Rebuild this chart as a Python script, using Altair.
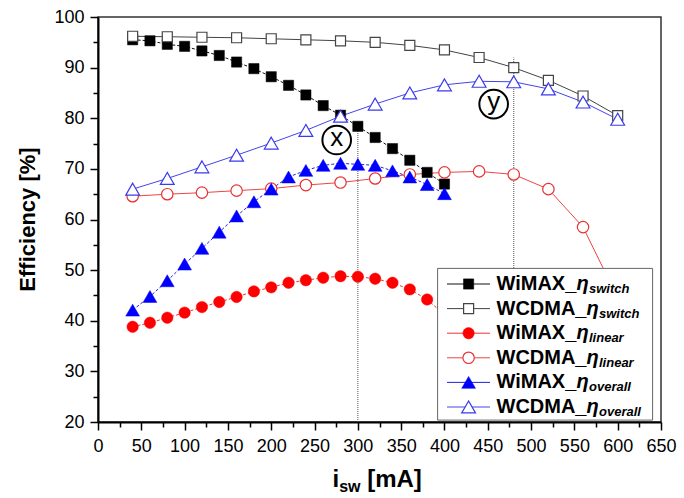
import altair as alt
import pandas as pd

# ---------------- data ----------------
x_wimax = [40, 60, 80, 100, 120, 140, 160, 180, 200, 220, 240, 260, 280, 300, 320, 340, 360, 380, 400]
x_wcdma = [40, 80, 120, 160, 200, 240, 280, 320, 360, 400, 440, 480, 520, 560, 600]

wimax_switch = [95.5, 95.3, 94.6, 94.2, 93.3, 92.4, 91.1, 89.8, 88.2, 86.5, 84.6, 82.5, 80.6, 78.4, 76.2, 74.0, 71.7, 69.3, 67.0]
wcdma_switch = [96.2, 96.1, 96.0, 95.9, 95.7, 95.5, 95.3, 95.0, 94.4, 93.5, 92.0, 90.0, 87.5, 84.4, 80.5]
wimax_linear = [38.8, 39.6, 40.6, 41.6, 42.7, 43.7, 44.7, 45.8, 46.6, 47.5, 48.0, 48.5, 48.8, 48.7, 48.3, 47.5, 46.2, 44.2, 41.2]
wcdma_linear = [64.6, 65.0, 65.3, 65.7, 66.1, 66.8, 67.3, 68.1, 68.9, 69.3, 69.5, 68.9, 66.0, 58.5, 44.5]
wimax_overall = [42.1, 44.8, 47.9, 51.2, 54.3, 57.5, 60.7, 63.5, 66.0, 68.4, 69.7, 70.7, 71.1, 70.9, 70.7, 69.6, 68.4, 66.9, 65.1]
wcdma_overall = [66.0, 68.1, 70.4, 72.7, 75.1, 77.6, 80.4, 82.8, 85.0, 86.6, 87.3, 87.2, 85.8, 83.2, 79.8]

# reference lines (x, top value) and circled markers
ref_x = [300, 480]
ref_top = [78.4, 92.0]
mark_label = ["x", "y"]
mark_x = [275.6, 456.8]
mark_y = [75.7, 82.8]

x_ticks = list(range(0, 651, 25))
y_ticks = list(range(20, 101, 5))

FONT = "Liberation Sans"

# ---------------- scales / axes ----------------
xscale = alt.Scale(domain=[0, 650], nice=False, zero=False)
yscale = alt.Scale(domain=[20, 100], nice=False, zero=False)

x_axis = alt.Axis(
    values=x_ticks,
    labelExpr="datum.value % 50 === 0 ? datum.label : ''",
    tickSize={"condition": {"test": "datum.value % 50 === 0", "value": 8}, "value": 5},
    tickColor="black", tickWidth=1.5,
    domainColor="black", domainWidth=2,
    labelFont=FONT, labelFontSize=18, labelColor="black", labelPadding=7,
    labelFlush=False, labelOverlap=False,
    grid=False, title=None,
)
y_axis = alt.Axis(
    values=y_ticks,
    labelExpr="datum.value % 10 === 0 ? datum.label : ''",
    tickSize={"condition": {"test": "datum.value % 10 === 0", "value": 8}, "value": 5},
    tickColor="black", tickWidth=1.5,
    domainColor="black", domainWidth=2,
    labelFont=FONT, labelFontSize=18, labelColor="black", labelPadding=6,
    labelFlush=False, labelOverlap=False,
    grid=False,
    title="Efficiency [%]", titleFont=FONT, titleFontSize=22, titleFontWeight="bold",
    titleColor="black", titleAngle=-90, titleAlign="center", titleBaseline="middle",
    titleX=-71, titleY=202,
)

X = lambda: alt.X("x:Q", scale=xscale, axis=x_axis)
Y = lambda: alt.Y("y:Q", scale=yscale, axis=y_axis)

series = [
    dict(pre="WiMAX_", sub="switch", x=x_wimax, y=wimax_switch, line="#111111", mcol="#000000",
         shape="square", filled=True, dash=[3, 2], size=105),
    dict(pre="WCDMA_", sub="switch", x=x_wcdma, y=wcdma_switch, line="#444444", mcol="#444444",
         shape="square", filled=False, dash=None, size=100),
    dict(pre="WiMAX_", sub="linear", x=x_wimax, y=wimax_linear, line="#ee3333", mcol="#ff0000",
         shape="circle", filled=True, dash=[3, 2], size=130),
    dict(pre="WCDMA_", sub="linear", x=x_wcdma, y=wcdma_linear, line="#ee4444", mcol="#e83030",
         shape="circle", filled=False, dash=None, size=130),
    dict(pre="WiMAX_", sub="overall", x=x_wimax, y=wimax_overall, line="#2222dd", mcol="#0000ff",
         shape="triangle-up", filled=True, dash=[3, 2], size=190),
    dict(pre="WCDMA_", sub="overall", x=x_wcdma, y=wcdma_overall, line="#4444ee", mcol="#3a3aee",
         shape="triangle-up", filled=False, dash=None, size=190),
]

layers = []

# reference dotted rules
ref_df = pd.DataFrame({"x": ref_x, "y": [20] * len(ref_x), "y2": ref_top})
layers.append(
    alt.Chart(ref_df).mark_rule(color="#555555", strokeWidth=1, strokeDash=[1, 1]).encode(
        x=X(), y=Y(), y2="y2:Q"
    )
)


def line_layer(s):
    df = pd.DataFrame({"x": s["x"], "y": s["y"]})
    kw = dict(color=s["line"], strokeWidth=1)
    if s["dash"]:
        kw["strokeDash"] = s["dash"]
    return alt.Chart(df).mark_line(**kw).encode(x=X(), y=Y())


def point_kw(s):
    if s["filled"]:
        return dict(shape=s["shape"], size=s["size"], filled=True, fill=s["mcol"],
                    stroke=s["mcol"], strokeWidth=0.5, opacity=1, fillOpacity=1)
    return dict(shape=s["shape"], size=s["size"], filled=True, fill="white",
                stroke=s["mcol"], strokeWidth=1.2, opacity=1, fillOpacity=1)


for s in series:
    layers.append(line_layer(s))
for s in series:
    df = pd.DataFrame({"x": s["x"], "y": s["y"]})
    layers.append(alt.Chart(df).mark_point(**point_kw(s)).encode(x=X(), y=Y()))

# circled annotations
ann_df = pd.DataFrame({"x": mark_x, "y": mark_y, "t": mark_label})
layers.append(
    alt.Chart(ann_df).mark_point(shape="circle", size=820, filled=False, color="black",
                                 strokeWidth=2, opacity=1).encode(x=X(), y=Y())
)
layers.append(
    alt.Chart(ann_df).mark_text(font=FONT, fontSize=26, color="black", baseline="middle",
                                align="center", dy=-2).encode(x=X(), y=Y(), text="t:N")
)

# ---------------- legend (custom box) ----------------
one = pd.DataFrame({"k": [0]})
LX0, LX1, LY0, LY1 = 339.6, 554.6, 251.4, 403.1
layers.append(
    alt.Chart(one).mark_rect(fill="white", stroke="#666666", strokeWidth=1).encode(
        x=alt.value(LX0), x2=alt.value(LX1), y=alt.value(LY0), y2=alt.value(LY1)
    )
)
pre_w = {"WiMAX_": 80.0, "WCDMA_": 90.0}
for i, s in enumerate(series):
    yi = 267.0 + 24.6 * i
    layers.append(
        alt.Chart(one).mark_rule(color=s["line"], strokeWidth=1).encode(
            x=alt.value(349), x2=alt.value(392), y=alt.value(yi)
        )
    )
    layers.append(
        alt.Chart(one).mark_point(**point_kw(s)).encode(x=alt.value(370.6), y=alt.value(yi))
    )
    tx = 398.5
    layers.append(
        alt.Chart(one).mark_text(text=s["pre"], font=FONT, fontSize=20, fontWeight="bold",
                                 color="black", align="left", baseline="middle").encode(
            x=alt.value(tx), y=alt.value(yi)
        )
    )
    ex = tx + pre_w[s["pre"]]
    layers.append(
        alt.Chart(one).mark_text(text="η", font=FONT, fontSize=20, fontWeight="bold",
                                 fontStyle="italic", color="black", align="left",
                                 baseline="middle").encode(x=alt.value(ex), y=alt.value(yi))
    )
    layers.append(
        alt.Chart(one).mark_text(text=s["sub"], font=FONT, fontSize=13, fontWeight="bold",
                                 fontStyle="italic", color="black", align="left",
                                 baseline="middle").encode(x=alt.value(ex + 12.5), y=alt.value(yi + 5))
    )

# ---------------- x-axis title with subscript ----------------
TX0, TY = 234.5, 470
layers.append(
    alt.Chart(one).mark_text(text="i", font=FONT, fontSize=24, fontWeight="bold", color="black",
                             align="left", baseline="alphabetic").encode(x=alt.value(TX0), y=alt.value(TY))
)
layers.append(
    alt.Chart(one).mark_text(text="sw", font=FONT, fontSize=16, fontWeight="bold", color="black",
                             align="left", baseline="alphabetic").encode(x=alt.value(TX0 + 6.7), y=alt.value(TY + 5))
)
layers.append(
    alt.Chart(one).mark_text(text="[mA]", font=FONT, fontSize=24, fontWeight="bold", color="black",
                             align="left", baseline="alphabetic").encode(x=alt.value(TX0 + 34.7), y=alt.value(TY))
)

chart = alt.layer(*layers).properties(
    width=563, height=405,
    autosize=alt.AutoSizeParams(type="none"),
    padding={"left": 98, "top": 17, "right": 23, "bottom": 76},
    background="white",
).configure_view(stroke="#333333", strokeWidth=1.5)

chart.save("out.html", embed_options={"renderer": "svg", "actions": False})
